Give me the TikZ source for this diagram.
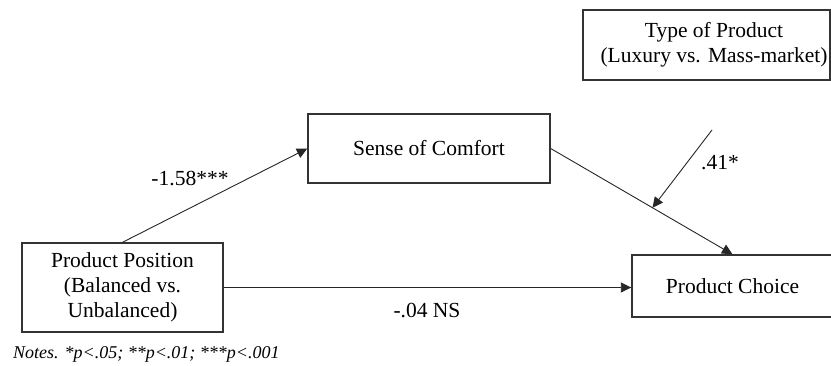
\documentclass[tikz,border=0pt]{standalone}
\usepackage{fontspec}
\setmainfont{Liberation Serif}
\usepackage{tikz}
\usetikzlibrary{arrows.meta}
\usetikzlibrary{calc}
\usepackage{xcolor}
\definecolor{boxline}{HTML}{333333}

\begin{document}
\begin{tikzpicture}[x=1pt,y=-1pt,
  box/.style={draw=boxline, line width=1.4pt, align=center, inner sep=0pt,
    font=\fontsize{21.5}{24.7}\selectfont},
  link/.style={draw=black!85, line width=0.9pt, -{Triangle[length=10.5pt,width=10pt]}},
  coef/.style={font=\fontsize{21.5}{24.7}\selectfont}]
\useasboundingbox (0,0) rectangle (831,365);

\node [box, minimum width=201pt, minimum height=89pt] (pos) at (122.5,287.5) {Product Position\\(Balanced vs.\\Unbalanced)};
\node [box, minimum width=242pt, minimum height=69pt] (comfort) at (429,148.5) {Sense of Comfort};
\node [box, minimum width=201pt, minimum height=62pt] (choice) at (732.5,286) {Product Choice};
\node [box, minimum width=247pt, minimum height=70pt] (type) at (706.5,45) {\hspace*{15pt}Type of Product\\\hspace*{15pt}(Luxury vs. Mass-market)};

\draw [link] (pos.north) -- (comfort.west);
\draw [link] (comfort.east) -- (choice.north);
\draw [link] (pos.east) -- (pos.east -| choice.west);
\coordinate (modstart) at (712,130);
\coordinate (modend) at ($(comfort.east)!0.56!(choice.north)$);
\draw [link] (modstart) -- (modend);

\node [coef] (a) at (190,178) {-1.58***};
\node [coef] (b) at (720,163) {.41*};
\node [coef] (c) at (427,310) {-.04 NS};
\node [anchor=base west, inner sep=0pt, font=\fontsize{18}{21}\itshape] (notes) at (13,358) {Notes. *p<.05; **p<.01; ***p<.001};

\end{tikzpicture}
\end{document}
